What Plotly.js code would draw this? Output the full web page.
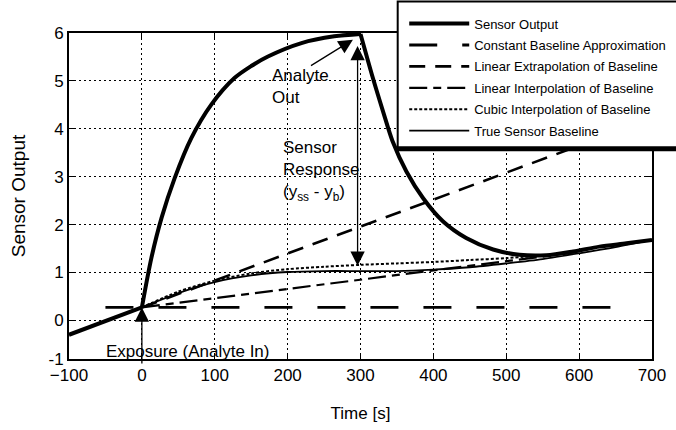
<!DOCTYPE html>
<html>
<head>
<meta charset="utf-8">
<script src="https://cdn.plot.ly/plotly-3.0.1.min.js"></script>
<style>html,body{margin:0;padding:0;background:#fff}#chart{width:676px;height:430px}</style>
</head>
<body>
<div id="chart"></div>
<script>
// ---- data ----
// Sensor output, in three segments: before exposure, rise, recovery
var sensorPreT = [-100, 0];
var sensorPreY = [-0.30, 0.27];
var sensorRiseT = [0, 13, 27, 45, 68, 95, 127, 150, 173, 219, 264, 300];
var sensorRiseY = [0.27, 1.30, 2.14, 2.97, 3.81, 4.50, 5.06, 5.31, 5.51, 5.79, 5.93, 5.98];
var sensorFallT = [300, 317, 331, 344, 363, 386, 413, 445, 482, 518, 555, 592, 628, 665, 700];
var sensorFallY = [5.98, 5.06, 4.36, 3.74, 3.11, 2.55, 2.07, 1.72, 1.48, 1.37, 1.36, 1.44, 1.54, 1.61, 1.68];

var constT = [-50, 650];
var constY = [0.27, 0.27];

var extrapT = [0, 700];
var extrapY = [0.27, 4.21];

var interpT = [0, 600];
var interpY = [0.27, 1.43];

var cubicT = [0, 50, 100, 150, 200, 250, 300, 350, 400, 450, 500, 550];
var cubicY = [0.27, 0.60, 0.83, 0.98, 1.07, 1.12, 1.16, 1.19, 1.22, 1.26, 1.30, 1.36];

var trueT = [-100, 0, 50, 100, 150, 200, 250, 300, 350, 400, 450, 500, 550, 600, 650, 700];
var trueY = [-0.30, 0.27, 0.57, 0.80, 0.94, 1.01, 1.03, 1.03, 1.03, 1.06, 1.11, 1.19, 1.28, 1.40, 1.53, 1.68];

var xTicks = [-100, 0, 100, 200, 300, 400, 500, 600, 700];
var yTickVals = [-0.806, 0, 1, 2, 3, 4, 5, 6];
var yTickText = ['-1', '0', '1', '2', '3', '4', '5', '6'];

var seriesNames = ['Sensor Output', 'Constant Baseline Approximation', 'Linear Extrapolation of Baseline',
                   'Linear Interpolation of Baseline', 'Cubic Interpolation of Baseline', 'True Sensor Baseline'];

// ---- traces ----
var FONT = 'Liberation Sans, Arial, Helvetica, sans-serif';
function tr(x, y, name, rank, width, dash, shape, showleg) {
  return {x: x, y: y, name: name, type: 'scatter', mode: 'lines', legendrank: rank,
          legendgroup: 'g' + rank, showlegend: showleg !== false,
          line: {color: '#000', width: width, dash: dash, shape: shape || 'linear', smoothing: 0.8},
          hoverinfo: 'skip'};
}
var data = [
  tr(constT, constY, seriesNames[1], 2, 2.8, '28px,25px'),
  tr(extrapT, extrapY, seriesNames[2], 3, 2.6, '16px,10px'),
  tr(interpT, interpY, seriesNames[3], 4, 2.2, '18px,6px,8px,6px'),
  tr(cubicT, cubicY, seriesNames[4], 5, 2, '3px,2px', 'spline'),
  tr(trueT, trueY, seriesNames[5], 6, 1.8, 'solid', 'spline'),
  tr(sensorPreT, sensorPreY, seriesNames[0], 1, 4, 'solid', 'linear', false),
  tr(sensorRiseT, sensorRiseY, seriesNames[0], 1, 4, 'solid', 'spline', true),
  tr(sensorFallT, sensorFallY, seriesNames[0], 1, 4, 'solid', 'spline', false)
];

var axisCommon = {
  showgrid: true, gridcolor: '#000', gridwidth: 1, griddash: '2px,3px',
  showline: true, linecolor: '#000', linewidth: 2, mirror: 'allticks',
  ticks: 'inside', ticklen: 6, tickwidth: 1, tickcolor: '#000',
  zeroline: false, tickfont: {family: FONT, size: 17, color: '#000'}
};

var layout = {
  width: 676, height: 430,
  margin: {l: 69, r: 24, t: 33, b: 71, pad: 0, autoexpand: false},
  paper_bgcolor: '#fff', plot_bgcolor: '#fff',
  font: {family: FONT, color: '#000'},
  xaxis: Object.assign({}, axisCommon, {
    range: [-100, 700], tickmode: 'array', tickvals: xTicks,
    title: {text: 'Time [s]', font: {family: FONT, size: 17, color: '#000'}, standoff: 23}
  }),
  yaxis: Object.assign({}, axisCommon, {
    range: [-0.806, 6], tickmode: 'array', tickvals: yTickVals, ticktext: yTickText,
    title: {text: 'Sensor Output', font: {family: FONT, size: 19, color: '#000'}, standoff: 18}
  }),
  showlegend: true,
  legend: {x: 0.575, y: 1.0747, xanchor: 'left', yanchor: 'top', itemwidth: 60,
           bgcolor: 'rgba(0,0,0,0)', borderwidth: 0, traceorder: 'grouped', tracegroupgap: 1.5,
           font: {family: FONT, size: 13, color: '#000'}},
  shapes: [
    {type: 'rect', xref: 'paper', yref: 'paper', x0: 0.5638, x1: 1.06, y0: 0.645, y1: 1.097,
     fillcolor: '#fff', line: {color: '#000', width: 2}, layer: 'above'},
    {type: 'line', xref: 'paper', yref: 'paper', x0: 0.5625, x1: 1.06, y0: 0.645, y1: 0.645,
     line: {color: '#000', width: 5}, layer: 'above'}
  ],
  annotations: [
    {x: 0, y: 0.27, ax: 0, ay: -0.93, xref: 'x', yref: 'y', axref: 'x', ayref: 'y', text: '',
     showarrow: true, arrowhead: 2, arrowsize: 2.2, arrowwidth: 1.3, arrowcolor: '#000'},
    {x: 62, y: -0.647, xref: 'x', yref: 'y', text: 'Exposure (Analyte In)', showarrow: false,
     font: {family: FONT, size: 17, color: '#000'}, xanchor: 'center', yanchor: 'middle'},
    {x: 289.6, y: 5.86, ax: 230, ay: 5.30, xref: 'x', yref: 'y', axref: 'x', ayref: 'y', text: '',
     showarrow: true, arrowhead: 2, arrowsize: 2.2, arrowwidth: 1.3, arrowcolor: '#000'},
    {x: 175.3, y: 4.885, xref: 'x', yref: 'y', text: 'Analyte<br>Out', showarrow: false, align: 'left',
     font: {family: FONT, size: 17, color: '#000'}, xanchor: 'left', yanchor: 'middle'},
    {x: 296, y: 1.14, ax: 296, ay: 5.76, xref: 'x', yref: 'y', axref: 'x', ayref: 'y', text: '',
     showarrow: true, arrowhead: 2, arrowside: 'end+start', arrowsize: 2.2, arrowwidth: 1.3, arrowcolor: '#000'},
    {x: 191.3, y: 3.11, xref: 'x', yref: 'y', text: 'Sensor<br>Response<br>(y<sub>ss</sub> - y<sub>b</sub>)',
     showarrow: false, align: 'left', font: {family: FONT, size: 17, color: '#000'},
     xanchor: 'left', yanchor: 'middle'}
  ]
};

Plotly.newPlot('chart', data, layout, {staticPlot: true, displayModeBar: false});
</script>
</body>
</html>
